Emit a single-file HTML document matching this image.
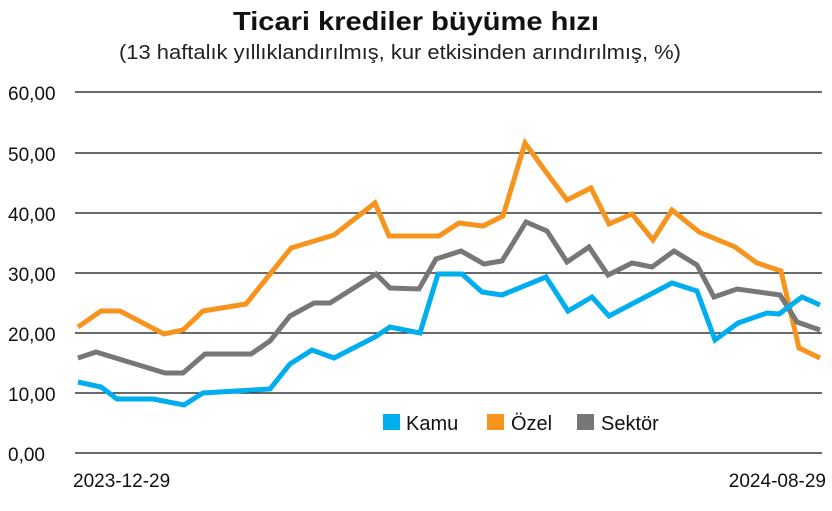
<!DOCTYPE html>
<html><head><meta charset="utf-8"><style>
body{margin:0;background:#fff;}
svg{display:block;font-family:"Liberation Sans",sans-serif;}
</style></head><body>
<svg width="832" height="511" viewBox="0 0 832 511">
<text x="416" y="30" text-anchor="middle" font-size="26" font-weight="bold" fill="#111" textLength="366" lengthAdjust="spacingAndGlyphs">Ticari krediler büyüme hızı</text>
<text x="400" y="59" text-anchor="middle" font-size="20" fill="#222" textLength="562" lengthAdjust="spacingAndGlyphs">(13 haftalık yıllıklandırılmış, kur etkisinden arındırılmış, %)</text>
<g stroke="#111" stroke-width="1.3">
<line x1="75" y1="92" x2="822" y2="92"/><line x1="75" y1="153" x2="822" y2="153"/>
<line x1="75" y1="213" x2="822" y2="213"/><line x1="75" y1="273" x2="822" y2="273"/>
<line x1="75" y1="333" x2="822" y2="333"/><line x1="75" y1="393" x2="822" y2="393"/>
<line x1="75" y1="453" x2="822" y2="453"/>
</g>
<g font-size="19" fill="#111">
<text x="8" y="100">60,00</text><text x="8" y="161">50,00</text><text x="8" y="221">40,00</text>
<text x="8" y="281">30,00</text><text x="8" y="341">20,00</text><text x="8" y="401">10,00</text>
<text x="8" y="461">0,00</text>
<text x="73" y="487">2023-12-29</text><text x="826" y="487" text-anchor="end">2024-08-29</text>
</g>
<g fill="none" stroke-width="5" stroke-linejoin="miter">
<polyline stroke="#f7941d" points="78,327 101,311 120,311 164,334 183,330 203,311 246,304 291,248 334,235 375,203 389,236 426,236 439,236 459,223 483,226 503,216 525,143 546,172 567,200 591,188 609,224 632,214 653,240 672,210 699,232 735,247 757,263 781,271 799,348 820,358"/>
<polyline stroke="#777" points="78,358 96,352 165,373 183,373 205,354 251,354 270,341 290,316 314,303 330,303 376,274 390,288 419,289 436,259 461,251 484,264 502,261 526,222 547,231 567,262 589,247 608,275 632,263 652,267 674,251 697,265 714,297 737,289 780,295 797,322 820,330"/>
<polyline stroke="#00aeef" points="78,382 101,387 117,399 153,399 184,405 203,393 270,389 290,364 312,350 334,358 375,337 390,327 420,333 438,274 462,274 482,292 502,295 546,277 568,311 592,297 609,316 672,283 697,291 715,340 738,323 767,313 779,314 802,297 820,305"/>
</g>
<rect x="383" y="414" width="17" height="16" fill="#00aeef"/>
<rect x="487" y="414" width="17" height="16" fill="#f7941d"/>
<rect x="577" y="414" width="17" height="16" fill="#777"/>
<g font-size="20" fill="#111">
<text x="406" y="430">Kamu</text><text x="511" y="430">Özel</text><text x="601" y="430">Sektör</text>
</g>
</svg>
</body></html>
